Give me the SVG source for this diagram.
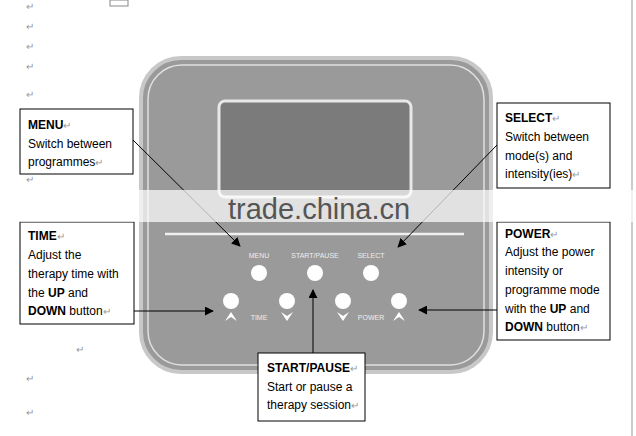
<svg xmlns="http://www.w3.org/2000/svg" width="636" height="436" viewBox="0 0 636 436">
<defs>
<style>
text{font-family:"Liberation Sans",Arial,sans-serif}
.box{fill:#fff;stroke:#000;stroke-width:1}
.t{font-size:12px;fill:#000}
.b{font-weight:bold}
.pm{font-size:10px;fill:#999}
.lbl{font-size:7px;fill:#eee}
.btn{fill:#fff}
.con{stroke:#000;stroke-width:1;fill:none;marker-end:url(#ah)}
</style>
<marker id="ah" viewBox="0 0 10 10" refX="9" refY="5" markerWidth="9" markerHeight="9" markerUnits="userSpaceOnUse" orient="auto"><path d="M0,0L10,5L0,10z" fill="#000"/></marker>
</defs>
<rect width="636" height="436" fill="#fff"/>
<line x1="632" y1="0" x2="632" y2="436" stroke="#999"/>
<rect x="110" y="0" width="18" height="6" fill="none" stroke="#888"/>
<g id="margin">
<text class="pm" x="26" y="10">↵</text><text class="pm" x="26" y="30">↵</text><text class="pm" x="26" y="50">↵</text><text class="pm" x="26" y="70">↵</text><text class="pm" x="26" y="98">↵</text><text class="pm" x="26" y="183">↵</text><text class="pm" x="76" y="353">↵</text><text class="pm" x="26" y="382">↵</text><text class="pm" x="26" y="416">↵</text>
</g>
<g id="panel">
<rect x="141" y="58" width="350" height="314" rx="40" fill="#9a9a9a" stroke="#c8c8c8" stroke-width="4"/>
<rect x="148" y="65" width="336" height="300" rx="34" fill="none" stroke="#e0e0e0" stroke-width="1.5"/>
<rect x="219" y="101" width="192" height="96" rx="6" fill="#7b7b7b" stroke="#e8e8e8" stroke-width="3"/>
<line x1="165" y1="234" x2="464" y2="234" stroke="#f0f0f0" stroke-width="2.5"/>
<text class="lbl" x="259" y="258" text-anchor="middle">MENU</text>
<text class="lbl" x="315" y="258" text-anchor="middle">START/PAUSE</text>
<text class="lbl" x="371" y="258" text-anchor="middle">SELECT</text>
<circle class="btn" cx="259" cy="273" r="8"/><circle class="btn" cx="315" cy="273" r="8"/><circle class="btn" cx="371" cy="273" r="8"/>
<circle class="btn" cx="231" cy="301" r="8"/><circle class="btn" cx="287" cy="301" r="8"/><circle class="btn" cx="343" cy="301" r="8"/><circle class="btn" cx="399" cy="301" r="8"/>
<path d="M225,321L231,312L237,321L231,317z" fill="#fff"/>
<path d="M393,321L399,312L405,321L399,317z" fill="#fff"/>
<path d="M281,312L287,321L293,312L287,316z" fill="#fff"/>
<path d="M337,312L343,321L349,312L343,316z" fill="#fff"/>
<text class="lbl" x="259" y="320" text-anchor="middle">TIME</text>
<text class="lbl" x="371" y="320" text-anchor="middle">POWER</text>
</g>
<g id="connectors">
<line class="con" x1="133" y1="140" x2="240" y2="246"/>
<line class="con" x1="497" y1="145" x2="398" y2="247"/>
<line class="con" x1="134" y1="311" x2="213" y2="311"/>
<line class="con" x1="497" y1="310" x2="419" y2="310"/>
<line class="con" x1="313" y1="353" x2="313" y2="290"/>
</g>
<g id="menu"><rect class="box" x="20" y="109" width="113" height="65"/>
<text class="t" x="28" y="129"><tspan class="b">MENU</tspan><tspan class="pm">↵</tspan></text>
<text class="t" x="28" y="148">Switch between</text>
<text class="t" x="28" y="166">programmes<tspan class="pm">↵</tspan></text></g>
<g id="time"><rect class="box" x="20" y="222" width="114" height="102"/>
<text class="t" x="28" y="240"><tspan class="b">TIME</tspan><tspan class="pm">↵</tspan></text>
<text class="t" x="28" y="259">Adjust the</text>
<text class="t" x="28" y="278">therapy time with</text>
<text class="t" x="28" y="297">the <tspan class="b">UP</tspan> and</text>
<text class="t" x="28" y="315"><tspan class="b">DOWN</tspan> button<tspan class="pm">↵</tspan></text></g>
<g id="select"><rect class="box" x="497" y="103" width="113" height="85"/>
<text class="t" x="505" y="122"><tspan class="b">SELECT</tspan><tspan class="pm">↵</tspan></text>
<text class="t" x="505" y="141">Switch between</text>
<text class="t" x="505" y="160">mode(s) and</text>
<text class="t" x="505" y="178">intensity(ies)<tspan class="pm">↵</tspan></text></g>
<g id="power"><rect class="box" x="497" y="222" width="113" height="118"/>
<text class="t" x="505" y="238"><tspan class="b">POWER</tspan><tspan class="pm">↵</tspan></text>
<text class="t" x="505" y="256">Adjust the power</text>
<text class="t" x="505" y="275">intensity or</text>
<text class="t" x="505" y="294">programme mode</text>
<text class="t" x="505" y="313">with the <tspan class="b">UP</tspan> and</text>
<text class="t" x="505" y="331"><tspan class="b">DOWN</tspan> button<tspan class="pm">↵</tspan></text></g>
<g id="startpause"><rect class="box" x="258" y="353" width="107" height="68"/>
<text class="t" x="267" y="372"><tspan class="b">START/PAUSE</tspan><tspan class="pm">↵</tspan></text>
<text class="t" x="267" y="391">Start or pause a</text>
<text class="t" x="267" y="409">therapy session<tspan class="pm">↵</tspan></text></g>
<rect x="0" y="190" width="636" height="32" fill="#fff" opacity="0.7"/>
<text x="228" y="219" font-size="29" fill="#555">trade.china.cn</text>
</svg>
